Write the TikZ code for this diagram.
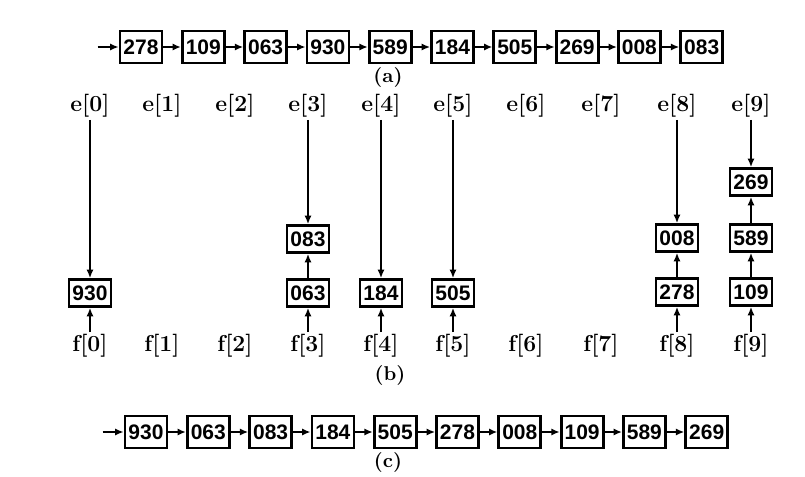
\documentclass[tikz,border=0pt]{standalone}
\usepackage{fontspec}
\usepackage{tikz}
\usetikzlibrary{positioning,arrows.meta}
\newfontfamily\numfont{Liberation Sans}

\begin{document}
\begin{tikzpicture}[x=0.5pt,y=-0.5pt,node distance=31.15pt,
keybox/.style={draw,line width=1.4pt,minimum width=21pt,minimum height=13.5pt,
inner sep=0.5pt,font=\numfont\bfseries\fontsize{10.5}{11}\selectfont},
listbox/.style={keybox,minimum height=16pt,on grid},
link/.style={-{Latex[length=4.2pt,width=3.6pt]},line width=1.3pt},
idx/.style={inner sep=1pt,font=\bfseries\fontsize{11.5}{12}\selectfont},
sublabel/.style={font=\bfseries\fontsize{10}{12}\selectfont}]
\useasboundingbox (0,0) rectangle (805,477);

% (a) input list
\node[listbox] (a278) at (141,47) {278};
\node[listbox,right=of a278] (a109) {109};
\node[listbox,right=of a109] (a063) {063};
\node[listbox,right=of a063] (a930) {930};
\node[listbox,right=of a930] (a589) {589};
\node[listbox,right=of a589] (a184) {184};
\node[listbox,right=of a184] (a505) {505};
\node[listbox,right=of a505] (a269) {269};
\node[listbox,right=of a269] (a008) {008};
\node[listbox,right=of a008] (a083) {083};
\coordinate[left=10.5pt of a278] (ahead);
\draw[link] (ahead) -- (a278);
\draw[link] (a278) -- (a109);
\draw[link] (a109) -- (a063);
\draw[link] (a063) -- (a930);
\draw[link] (a930) -- (a589);
\draw[link] (a589) -- (a184);
\draw[link] (a184) -- (a505);
\draw[link] (a505) -- (a269);
\draw[link] (a269) -- (a008);
\draw[link] (a008) -- (a083);
\node[sublabel] (capa) at (388,77) {(a)};

% (b) queues
\node[idx] (e0) at (90,106) {e[0]};
\node[idx] (e1) at (162,106) {e[1]};
\node[idx] (e2) at (235,106) {e[2]};
\node[idx] (e3) at (308,106) {e[3]};
\node[idx] (e4) at (381,106) {e[4]};
\node[idx] (e5) at (453,106) {e[5]};
\node[idx] (e6) at (526,106) {e[6]};
\node[idx] (e7) at (601,106) {e[7]};
\node[idx] (e8) at (677,106) {e[8]};
\node[idx] (e9) at (751,106) {e[9]};
\node[idx] (f0) at (90,346) {f[0]};
\node[idx] (f1) at (162,346) {f[1]};
\node[idx] (f2) at (235,346) {f[2]};
\node[idx] (f3) at (308,346) {f[3]};
\node[idx] (f4) at (381,346) {f[4]};
\node[idx] (f5) at (453,346) {f[5]};
\node[idx] (f6) at (526,346) {f[6]};
\node[idx] (f7) at (601,346) {f[7]};
\node[idx] (f8) at (677,346) {f[8]};
\node[idx] (f9) at (751,346) {f[9]};

\node[keybox] (b930) at (e0 |- 0,293) {930};
\node[keybox] (b063) at (e3 |- 0,293) {063};
\node[keybox] (b083) at (e3 |- 0,239) {083};
\node[keybox] (b184) at (e4 |- 0,293) {184};
\node[keybox] (b505) at (e5 |- 0,293) {505};
\node[keybox] (b278) at (e8 |- 0,292) {278};
\node[keybox] (b008) at (e8 |- 0,238) {008};
\node[keybox] (b109) at (e9 |- 0,292) {109};
\node[keybox] (b589) at (e9 |- 0,238) {589};
\node[keybox] (b269) at (e9 |- 0,182) {269};

\draw[link] (e0) -- (b930);
\draw[link] (f0) -- (b930);
\draw[link] (e3) -- (b083);
\draw[link] (b063) -- (b083);
\draw[link] (f3) -- (b063);
\draw[link] (e4) -- (b184);
\draw[link] (f4) -- (b184);
\draw[link] (e5) -- (b505);
\draw[link] (f5) -- (b505);
\draw[link] (e8) -- (b008);
\draw[link] (b278) -- (b008);
\draw[link] (f8) -- (b278);
\draw[link] (e9) -- (b269);
\draw[link] (b589) -- (b269);
\draw[link] (b109) -- (b589);
\draw[link] (f9) -- (b109);
\node[sublabel] (capb) at (390,375) {(b)};

% (c) collected list
\node[listbox] (c930) at (146,432) {930};
\node[listbox,right=of c930] (c063) {063};
\node[listbox,right=of c063] (c083) {083};
\node[listbox,right=of c083] (c184) {184};
\node[listbox,right=of c184] (c505) {505};
\node[listbox,right=of c505] (c278) {278};
\node[listbox,right=of c278] (c008) {008};
\node[listbox,right=of c008] (c109) {109};
\node[listbox,right=of c109] (c589) {589};
\node[listbox,right=of c589] (c269) {269};
\coordinate[left=10.5pt of c930] (chead);
\draw[link] (chead) -- (c930);
\draw[link] (c930) -- (c063);
\draw[link] (c063) -- (c083);
\draw[link] (c083) -- (c184);
\draw[link] (c184) -- (c505);
\draw[link] (c505) -- (c278);
\draw[link] (c278) -- (c008);
\draw[link] (c008) -- (c109);
\draw[link] (c109) -- (c589);
\draw[link] (c589) -- (c269);
\node[sublabel] (capc) at (388,462) {(c)};
\end{tikzpicture}
\end{document}
